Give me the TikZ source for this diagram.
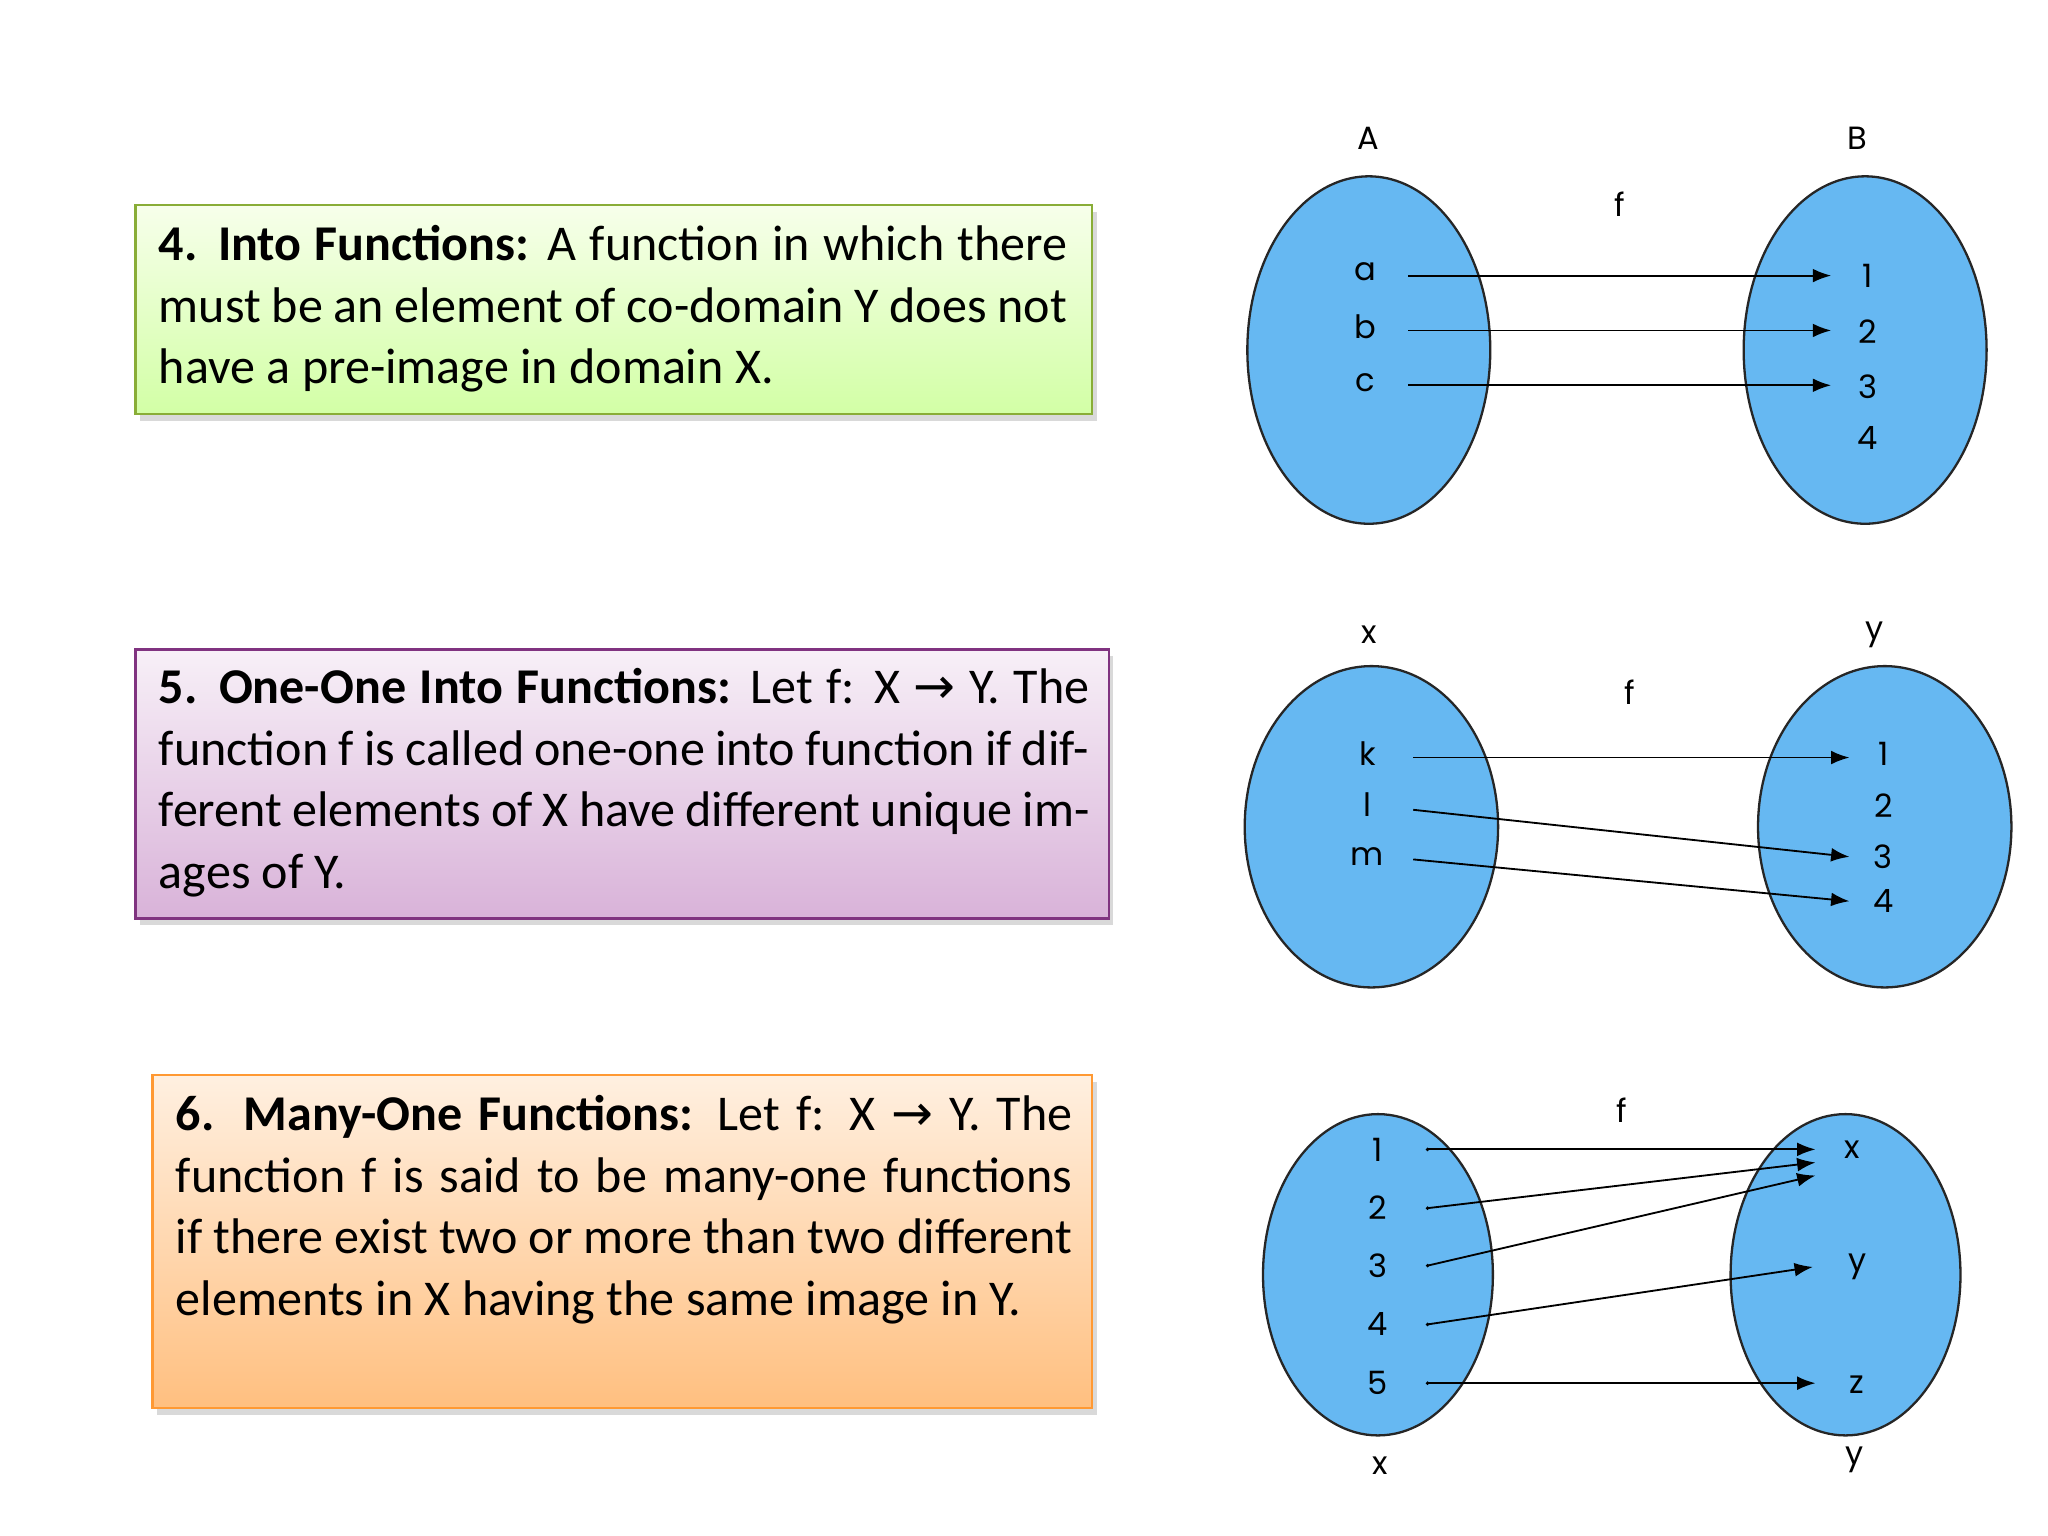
\documentclass[tikz,border=0pt]{standalone}
\usepackage{fontspec}
\setmainfont{Carlito}
\newfontfamily\lblfont{Poppins}
\newfontfamily\arrfont{DejaVu Sans}
\newcommand{\myarr}{{\arrfont →}}
\usetikzlibrary{shadows,arrows.meta}
\definecolor{ell}{HTML}{66B8F2}
\begin{document}
\begin{tikzpicture}[x=0.01cm,y=-0.01cm,
  set/.style={draw=black!85,fill=ell,line width=0.5pt},
  lbl/.style={font=\lblfont\fontsize{7}{8}\selectfont,inner sep=0pt},
  arr/.style={-{Latex[length=4pt,width=3pt]},line width=0.4pt},
  box/.style={line width=0.6pt,drop shadow={opacity=0.3,shadow xshift=1pt,shadow yshift=-1.5pt},inner sep=0pt},
  txt/.style={anchor=north west,align=justify,inner sep=0pt,font=\fontsize{10.9}{13.4}\selectfont}]
\useasboundingbox (0,0) rectangle (1568,1176);
% boxes
\path[box,draw=olive!60!green!80,top color=green!40!yellow!8,bottom color=green!50!yellow!35] (104,157) rectangle (836,317);
\node[txt,text width=6.95cm] (t1) at (121,172) {\textbf{4. Into Functions:} A function in which there must be an element of co-domain Y does not have a pre-image in domain X.};
\path[box,draw=violet!60!gray,top color=violet!6,bottom color=violet!30] (104,497) rectangle (849,703);
\node[txt,text width=7.12cm] (t2) at (121,511) {\textbf{5. One-One Into Functions:} Let f: X \myarr{} Y. The function f is called one-one into function if different elements of X have different unique images of Y.};
\path[box,draw=orange!80,top color=orange!12,bottom color=orange!50] (117,823) rectangle (836,1078);
\node[txt,text width=6.86cm] (t3) at (134,838) {\textbf{6. Many-One Functions:} Let f: X \myarr{} Y. The function f is said to be many-one functions if there exist two or more than two different elements in X having the same image in Y.};
% diagram 1
\draw[set] (1048,268) ellipse [x radius=93,y radius=133];
\draw[set] (1428,268) ellipse [x radius=93,y radius=133];
\node[lbl] (A) at (1048,106) {A};
\node[lbl] (B) at (1422,106) {B};
\node[lbl] (f1) at (1240,156) {f};
\foreach \n/\y in {a/208,b/250,c/293}{\node[lbl] (\n) at (1045,\y) {\n};}
\foreach \n/\y in {1/211,2/254,3/296,4/335}{\node[lbl] (b\n) at (1430,\y) {\n};}
\foreach \y [count=\i] in {211,253,295}{\coordinate (s\i) at (1078,\y); \coordinate (e\i) at (1402,\y); \draw[arr] (s\i) -- (e\i);}
% diagram 2
\draw[set] (1050,633) ellipse [x radius=97,y radius=123];
\draw[set] (1443,633) ellipse [x radius=97,y radius=123];
\node[lbl] (X2) at (1048,486) {x};
\node[lbl] (Y2) at (1435,486) {y};
\node[lbl] (f2) at (1248,530) {f};
\foreach \n/\y in {k/577,l/616,m/656}{\node[lbl] (\n) at (1047,\y) {\n};}
\foreach \n/\y in {1/577,2/617,3/656,4/690}{\node[lbl] (y\n) at (1442,\y) {\n};}
\coordinate (ks) at (1082,580); \coordinate (ke) at (1416,580);
\coordinate (ls) at (1082,620); \coordinate (le) at (1416,656);
\coordinate (ms) at (1082,658); \coordinate (me) at (1416,690);
\draw[arr] (ks)--(ke); \draw[arr] (ls)--(le); \draw[arr] (ms)--(me);
% diagram 3
\draw[set] (1055,976) ellipse [x radius=88,y radius=123];
\draw[set] (1413,976) ellipse [x radius=88,y radius=123];
\node[lbl] (f3) at (1242,850) {f};
\node[lbl] (X3) at (1057,1122) {x};
\node[lbl] (Y3) at (1420,1118) {y};
\foreach \y [count=\i] in {880,925,969,1014,1059}{\node[lbl] (n\i) at (1055,\y) {\i}; \fill (1093,\y) circle (1.5) coordinate (d\i);}
\node[lbl] (vx) at (1418,880) {x};
\node[lbl] (vy) at (1422,970) {y};
\node[lbl] (vz) at (1422,1060) {z};
\coordinate (q1) at (1390,880); \coordinate (q2) at (1390,890); \coordinate (q3) at (1390,900);
\coordinate (q4) at (1388,970); \coordinate (q5) at (1390,1059);
\foreach \i in {1,...,5}{\draw[arr] (d\i) -- (q\i);}
\end{tikzpicture}
\end{document}
